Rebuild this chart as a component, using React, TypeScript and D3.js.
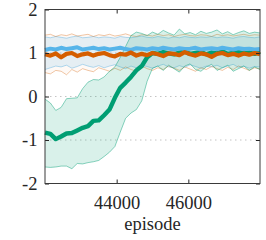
import React, { useEffect, useRef } from 'react';
import * as d3 from 'd3';

// episode grid (x)
const episodes = [
  42000, 42150, 42300, 42450, 42600, 42750, 42900, 43050, 43200, 43350, 43500,
  43650, 43800, 43950, 44100, 44250, 44400, 44550, 44700, 44850, 45000, 45150,
  45300, 45450, 45600, 45750, 45900, 46050, 46200, 46350, 46500, 46650, 46800,
  46950, 47100, 47250, 47400, 47550, 47700, 47850, 48000,
];

const blueMean = [
  1.07, 1.1, 1.08, 1.12, 1.09, 1.11, 1.13, 1.08, 1.1, 1.12, 1.09, 1.11, 1.08,
  1.1, 1.12, 1.09, 1.07, 1.11, 1.1, 1.08, 1.11, 1.09, 1.12, 1.1, 1.08, 1.11,
  1.09, 1.1, 1.12, 1.08, 1.1, 1.11, 1.09, 1.12, 1.1, 1.08, 1.11, 1.09, 1.1,
  1.08, 1.09,
];
const blueUpper = [
  1.37, 1.35, 1.38, 1.36, 1.34, 1.37, 1.39, 1.35, 1.36, 1.38, 1.35, 1.37, 1.36,
  1.34, 1.38, 1.36, 1.35, 1.37, 1.39, 1.36, 1.35, 1.38, 1.36, 1.34, 1.37, 1.35,
  1.38, 1.36, 1.35, 1.37, 1.36, 1.38, 1.35, 1.37, 1.36, 1.34, 1.37, 1.38, 1.36,
  1.35, 1.37,
];
const blueLower = [
  0.62, 0.66, 0.7, 0.68, 0.72, 0.65, 0.69, 0.74, 0.7, 0.67, 0.71, 0.66, 0.7,
  0.73, 0.68, 0.64, 0.7, 0.66, 0.72, 0.69, 0.65, 0.7, 0.74, 0.68, 0.66, 0.71,
  0.67, 0.73, 0.69, 0.65, 0.7, 0.68, 0.72, 0.66, 0.7, 0.74, 0.67, 0.7, 0.65,
  0.69, 0.68,
];

const orangeMean = [
  0.97, 0.94, 0.99, 0.9, 0.98, 1.0, 0.93, 0.97, 0.99, 0.94, 0.98, 1.0, 0.95,
  0.92, 0.98, 0.96, 1.01, 0.94, 0.98, 0.95, 1.0, 0.97, 0.93, 0.99, 0.98, 0.95,
  1.02, 0.97, 0.94, 0.99, 0.97, 0.91, 0.98, 1.0, 0.95, 0.98, 0.94, 0.99, 0.96,
  1.0, 0.97,
];
const orangeUpper = [
  1.41, 1.43, 1.38, 1.42, 1.4, 1.44, 1.39, 1.41, 1.43, 1.38, 1.42, 1.4, 1.43,
  1.39, 1.41, 1.44, 1.4, 1.38, 1.42, 1.41, 1.39, 1.43, 1.4, 1.42, 1.38, 1.41,
  1.43, 1.4, 1.39, 1.42, 1.41, 1.38, 1.43, 1.4, 1.42, 1.39, 1.41, 1.43, 1.4,
  1.42, 1.41,
];
const orangeLower = [
  0.55, 0.52, 0.6, 0.58, 0.5, 0.62, 0.56, 0.64, 0.6, 0.57, 0.66, 0.62, 0.58,
  0.65, 0.6, 0.68, 0.62, 0.58, 0.7, 0.64, 0.6, 0.66, 0.62, 0.7, 0.65, 0.6, 0.68,
  0.63, 0.58, 0.66, 0.62, 0.69, 0.64, 0.6, 0.67, 0.62, 0.7, 0.65, 0.6, 0.66,
  0.63,
];

const greenMean = [
  -0.83, -0.86, -0.98, -0.92, -0.85, -0.84, -0.78, -0.72, -0.68, -0.56, -0.55,
  -0.43, -0.3, -0.03, 0.2, 0.32, 0.45, 0.6, 0.7, 0.9, 1.0, 0.98, 1.02, 0.99,
  0.97, 1.01, 1.03, 0.98, 1.0, 1.02, 0.97, 1.01, 0.99, 1.04, 0.98, 1.0, 1.02,
  0.99, 1.01, 0.98, 1.03,
];
const greenUpper = [
  -0.06, -0.15, -0.32, -0.25, -0.05, -0.04, -0.03, 0.18, 0.33, 0.39, 0.38, 0.45,
  0.58, 0.68, 0.9, 1.15, 1.4, 1.48, 1.45, 1.4, 1.48, 1.43, 1.52, 1.46, 1.41,
  1.55, 1.44, 1.47, 1.42, 1.5, 1.45, 1.48, 1.53, 1.44, 1.49, 1.42, 1.47, 1.51,
  1.45, 1.48, 1.46,
];
const greenLower = [
  -1.62, -1.63, -1.62, -1.6, -1.6, -1.66, -1.54, -1.55, -1.52, -1.5, -1.47,
  -1.38, -1.28, -1.15, -0.82, -0.5, -0.38, -0.3, -0.1, 0.35, 0.65, 0.7, 0.6,
  0.72, 0.64, 0.56, 0.7, 0.75, 0.62, 0.58, 0.68, 0.74, 0.6, 0.66, 0.72, 0.58,
  0.64, 0.7, 0.6, 0.68, 0.62,
];

const xTicks = [44000, 46000];
const yTicks = [-2, -1, 0, 1, 2];
const gridTicks = [-1, 0, 1];

const width = 266;
const height = 240;
const plot = { left: 45, right: 260, top: 9.5, bottom: 183.5 };
const font = '"Liberation Serif"';
const ink = '#262626';

const bands = [
  { color: '#56B4E9', upper: blueUpper, lower: blueLower, fill: 0.15, edge: 0.45 },
  { color: '#D55E00', upper: orangeUpper, lower: orangeLower, fill: 0.035, edge: 0.35 },
  { color: '#009E73', upper: greenUpper, lower: greenLower, fill: 0.15, edge: 0.45 },
];
const means = [
  { color: '#009E73', values: greenMean, w: 4.4 },
  { color: '#56B4E9', values: blueMean, w: 4 },
  { color: '#D55E00', values: orangeMean, w: 4.2 },
];

export default function App() {
  const ref = useRef<SVGSVGElement>(null);

  useEffect(() => {
    if (!ref.current) return;
    const svg = d3.select(ref.current);
    svg.selectAll('*').remove();

    const x = d3.scaleLinear().domain([42000, 48000]).range([plot.left, plot.right]);
    const y = d3.scaleLinear().domain([-2, 2]).range([plot.bottom, plot.top]);

    // dotted y grid
    svg
      .append('g')
      .selectAll('line')
      .data(gridTicks)
      .enter()
      .append('line')
      .attr('x1', plot.left)
      .attr('x2', plot.right)
      .attr('y1', (d) => y(d))
      .attr('y2', (d) => y(d))
      .attr('stroke', '#c4c4c4')
      .attr('stroke-width', 1)
      .attr('stroke-dasharray', '1.5 3.5');

    const edge = d3
      .line<number>()
      .x((_, i) => x(episodes[i]))
      .y((d) => y(d));

    const bandG = svg.append('g');
    bands.forEach((b) => {
      const ar = d3
        .area<number>()
        .x((_, i) => x(episodes[i]))
        .y0((_, i) => y(b.lower[i]))
        .y1((d) => y(d));
      bandG
        .append('path')
        .attr('d', ar(b.upper))
        .attr('fill', b.color)
        .attr('fill-opacity', b.fill)
        .attr('stroke', 'none');
      [b.upper, b.lower].forEach((vals) => {
        bandG
          .append('path')
          .attr('d', edge(vals))
          .attr('fill', 'none')
          .attr('stroke', b.color)
          .attr('stroke-opacity', b.edge)
          .attr('stroke-width', 1);
      });
    });

    const lineG = svg.append('g');
    means.forEach((m) => {
      lineG
        .append('path')
        .attr('d', edge(m.values))
        .attr('fill', 'none')
        .attr('stroke', m.color)
        .attr('stroke-width', m.w)
        .attr('stroke-linejoin', 'round');
    });

    // axes, ticks pointing inward
    const fmt = (d: d3.NumberValue) => String(d);
    const bottom = svg
      .append('g')
      .attr('transform', `translate(0,${plot.bottom})`)
      .call(d3.axisBottom(x).tickValues(xTicks).tickSizeInner(-4).tickSizeOuter(0).tickPadding(12).tickFormat(fmt));
    const left = svg
      .append('g')
      .attr('transform', `translate(${plot.left},0)`)
      .call(d3.axisLeft(y).tickValues(yTicks).tickSizeInner(-4).tickSizeOuter(0).tickPadding(7.5).tickFormat(fmt));
    const top = svg
      .append('g')
      .attr('transform', `translate(0,${plot.top})`)
      .call(d3.axisTop(x).tickValues(xTicks).tickSizeInner(-4).tickSizeOuter(0).tickFormat(() => ''));
    const right = svg
      .append('g')
      .attr('transform', `translate(${plot.right},0)`)
      .call(d3.axisRight(y).tickValues(yTicks).tickSizeInner(-4).tickSizeOuter(0).tickFormat(() => ''));

    [bottom, left, top, right].forEach((g) => {
      g.select('.domain').remove();
      g.selectAll('line').attr('stroke', ink);
      g.selectAll('text')
        .attr('fill', ink)
        .style('font-family', font)
        .style('font-size', '18.5px');
    });

    svg
      .append('rect')
      .attr('x', plot.left)
      .attr('y', plot.top)
      .attr('width', plot.right - plot.left)
      .attr('height', plot.bottom - plot.top)
      .attr('fill', 'none')
      .attr('stroke', '#3a3a3a')
      .attr('stroke-width', 1);

    svg
      .append('text')
      .attr('x', (plot.left + plot.right) / 2)
      .attr('y', 230)
      .attr('text-anchor', 'middle')
      .attr('fill', ink)
      .style('font-family', font)
      .style('font-size', '18.5px')
      .text('episode');
  }, []);

  return (
    <svg
      ref={ref}
      width={width}
      height={height}
      style={{ position: 'absolute', left: 0, top: 0, background: '#fff' }}
    />
  );
}
